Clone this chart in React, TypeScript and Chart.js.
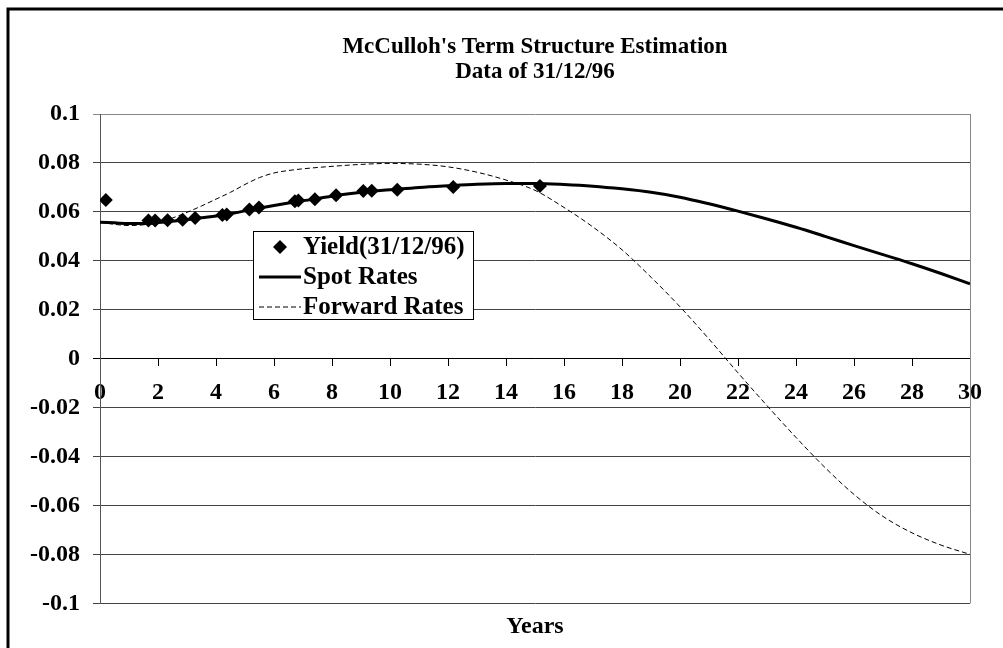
import { useEffect, useRef } from "react";
import { Chart, registerables } from "chart.js";

Chart.register(...registerables);

const TITLE_LINES = ["McCulloh's Term Structure Estimation", "Data of 31/12/96"];
const X_TITLE = "Years";
const SERIES_LABELS = ["Yield(31/12/96)", "Spot Rates", "Forward Rates"];

const CURVE_YEARS = [
  0, 0.5, 1, 1.5, 2, 2.5, 3, 3.5, 4, 4.5, 5, 5.5, 6, 6.5, 7, 8, 9, 10, 11, 12, 13, 14, 15,
  16, 17, 18, 19, 20, 21, 22, 23, 24, 25, 26, 27, 28, 29, 30,
];
const SPOT_RATES = [
  0.0558, 0.0555, 0.0552, 0.0552, 0.0556, 0.0562, 0.0568, 0.0576, 0.0583, 0.0592, 0.0604,
  0.0615, 0.0626, 0.0636, 0.0645, 0.0664, 0.068, 0.069, 0.07, 0.0707, 0.0713, 0.0716, 0.0716,
  0.0712, 0.0705, 0.0694, 0.068, 0.066, 0.0633, 0.0603, 0.0571, 0.0537, 0.05, 0.0462, 0.0425,
  0.0388, 0.0348, 0.0306,
];
const FORWARD_RATES = [
  0.0558, 0.0549, 0.0544, 0.0547, 0.0557, 0.0575, 0.0598, 0.0624, 0.0652, 0.068, 0.0712,
  0.074, 0.0759, 0.0769, 0.0776, 0.0786, 0.0794, 0.0798, 0.0795, 0.0784, 0.0762, 0.073,
  0.0688, 0.0618, 0.0538, 0.0445, 0.0333, 0.0212, 0.008, -0.0058, -0.0192, -0.0322, -0.0445,
  -0.0555, -0.0645, -0.0712, -0.0762, -0.08,
];
const YIELD_YEARS = [
  0.2, 1.67, 1.9, 2.33, 2.85, 3.28, 4.22, 4.37, 5.15, 5.48, 6.72, 6.84, 7.41, 8.14, 9.08, 9.37,
  10.25, 12.18, 15.17,
];
const YIELD_VALUES = [
  0.0648, 0.0565, 0.0565, 0.0566, 0.0568, 0.0575, 0.0587, 0.0589, 0.061, 0.0618, 0.0643,
  0.0646, 0.0652, 0.0668, 0.0685, 0.0686, 0.069, 0.0702, 0.0706,
];
const X_TICKS = [0, 2, 4, 6, 8, 10, 12, 14, 16, 18, 20, 22, 24, 26, 28, 30];
const Y_TICKS = [-0.1, -0.08, -0.06, -0.04, -0.02, 0, 0.02, 0.04, 0.06, 0.08, 0.1];

const FAMILY = "'Liberation Serif', 'Times New Roman', serif";

const framePlugin = {
  id: "frame",
  beforeDraw(chart: any) {
    const ctx = chart.ctx as CanvasRenderingContext2D;
    ctx.save();
    ctx.fillStyle = "#fff";
    ctx.fillRect(0, 0, chart.width, chart.height);
    ctx.strokeStyle = "#000";
    ctx.lineWidth = 3;
    ctx.beginPath();
    ctx.moveTo(8, chart.height + 5);
    ctx.lineTo(8, 9);
    ctx.lineTo(chart.width + 5, 9);
    ctx.stroke();
    ctx.restore();
  },
  beforeDatasetsDraw(chart: any) {
    const ctx = chart.ctx as CanvasRenderingContext2D;
    const a = chart.chartArea;
    ctx.save();
    ctx.strokeStyle = "#888";
    ctx.lineWidth = 1;
    ctx.beginPath();
    ctx.moveTo(Math.round(a.right) + 0.5, a.top);
    ctx.lineTo(Math.round(a.right) + 0.5, a.bottom);
    ctx.stroke();
    ctx.restore();
  },
};

const legendPlugin = {
  id: "boxLegend",
  afterDraw(chart: any) {
    const ctx = chart.ctx as CanvasRenderingContext2D;
    const ds = chart.data.datasets;
    const x0 = 253.5;
    const y0 = 231.5;
    const w = 220;
    const h = 88;
    ctx.save();
    ctx.fillStyle = "#fff";
    ctx.fillRect(x0, y0, w, h);
    ctx.strokeStyle = "#000";
    ctx.lineWidth = 1;
    ctx.setLineDash([]);
    ctx.strokeRect(x0, y0, w, h);
    ctx.font = `bold 25px ${FAMILY}`;
    ctx.textBaseline = "middle";
    ctx.textAlign = "left";
    ds.forEach((d: any, i: number) => {
      const cy = y0 + 15.5 + i * 30;
      ctx.fillStyle = "#000";
      ctx.strokeStyle = "#000";
      if (d.showLine === false) {
        const r = 7;
        const cx = 280;
        ctx.beginPath();
        ctx.moveTo(cx - r, cy);
        ctx.lineTo(cx, cy - r);
        ctx.lineTo(cx + r, cy);
        ctx.lineTo(cx, cy + r);
        ctx.closePath();
        ctx.fill();
      } else {
        ctx.lineWidth = d.borderWidth;
        ctx.setLineDash(d.borderDash || []);
        ctx.beginPath();
        ctx.moveTo(259, cy);
        ctx.lineTo(301, cy);
        ctx.stroke();
        ctx.setLineDash([]);
      }
      ctx.fillText(d.label, 303, cy + 1);
    });
    ctx.restore();
  },
};

export default function App() {
  const ref = useRef<HTMLCanvasElement>(null);

  useEffect(() => {
    const canvas = ref.current!;
    const tickFont = { family: FAMILY, size: 24, weight: "bold" as const };

    const chart = new Chart(canvas, {
      type: "scatter",
      data: {
        datasets: [
          {
            label: SERIES_LABELS[0],
            data: YIELD_YEARS.map((x, i) => ({ x, y: YIELD_VALUES[i] })),
            showLine: false,
            pointStyle: "rectRot",
            pointRadius: 7,
            pointHoverRadius: 7,
            backgroundColor: "#000",
            borderColor: "#000",
            borderWidth: 0,
          },
          {
            label: SERIES_LABELS[1],
            data: CURVE_YEARS.map((x, i) => ({ x, y: SPOT_RATES[i] })),
            showLine: true,
            borderColor: "#000",
            backgroundColor: "#000",
            borderWidth: 3,
            pointRadius: 0,
            pointHoverRadius: 0,
            cubicInterpolationMode: "monotone",
            fill: false,
          },
          {
            label: SERIES_LABELS[2],
            data: CURVE_YEARS.map((x, i) => ({ x, y: FORWARD_RATES[i] })),
            showLine: true,
            borderColor: "#000",
            backgroundColor: "#000",
            borderWidth: 1,
            borderDash: [5, 3],
            pointRadius: 0,
            pointHoverRadius: 0,
            cubicInterpolationMode: "monotone",
            fill: false,
          },
        ],
      },
      options: {
        responsive: false,
        animation: false,
        devicePixelRatio: 1,
        events: [],
        layout: { padding: { left: 8, right: 33, top: 0, bottom: 0 } },
        plugins: {
          legend: { display: false },
          tooltip: { enabled: false },
          title: {
            display: true,
            text: TITLE_LINES,
            fullSize: false,
            color: "#000",
            font: { family: FAMILY, size: 23, weight: "bold", lineHeight: 25 / 23 },
            padding: { top: 34.5, bottom: 29.5 },
          },
          subtitle: {
            display: true,
            position: "bottom",
            text: X_TITLE,
            fullSize: false,
            color: "#000",
            font: { family: FAMILY, size: 24, weight: "bold", lineHeight: 1.2 },
            padding: { top: 9.3, bottom: 6.6 },
          },
        },
        scales: {
          x: {
            type: "linear",
            position: { y: 0 } as any,
            min: 0,
            max: 30,
            afterBuildTicks: (s: any) => {
              s.ticks = X_TICKS.map((v) => ({ value: v }));
            },
            ticks: {
              color: "#000",
              font: tickFont,
              padding: 13,
              maxRotation: 0,
              autoSkip: false,
              callback: (v: any) => String(v),
            },
            grid: { drawOnChartArea: false, drawTicks: true, tickLength: 7, color: "#000" },
            border: { display: true, color: "#000", width: 1 },
          },
          y: {
            type: "linear",
            min: -0.1,
            max: 0.1,
            afterBuildTicks: (s: any) => {
              s.ticks = Y_TICKS.map((v) => ({ value: v }));
            },
            afterFit: (s: any) => {
              s.width = 92;
            },
            ticks: {
              color: "#000",
              font: tickFont,
              padding: 13,
              callback: (v: any) => String(Math.round(Number(v) * 100) / 100),
            },
            grid: {
              drawTicks: true,
              tickLength: 7,
              lineWidth: 1,
              color: (c: any) => {
                const v = c.tick ? Math.round(c.tick.value * 100) : 1;
                if (v === 0) return "#000";
                if (v === 10) return "#888";
                return "#444";
              },
            },
            border: { display: true, color: "#555", width: 1 },
          },
        },
      },
      plugins: [framePlugin, legendPlugin],
    });

    return () => chart.destroy();
  }, []);

  return (
    <div style={{ position: "absolute", left: 0, top: 0, width: 1003, height: 648, background: "#fff" }}>
      <canvas ref={ref} width={1003} height={648} style={{ display: "block", width: 1003, height: 648 }} />
    </div>
  );
}
